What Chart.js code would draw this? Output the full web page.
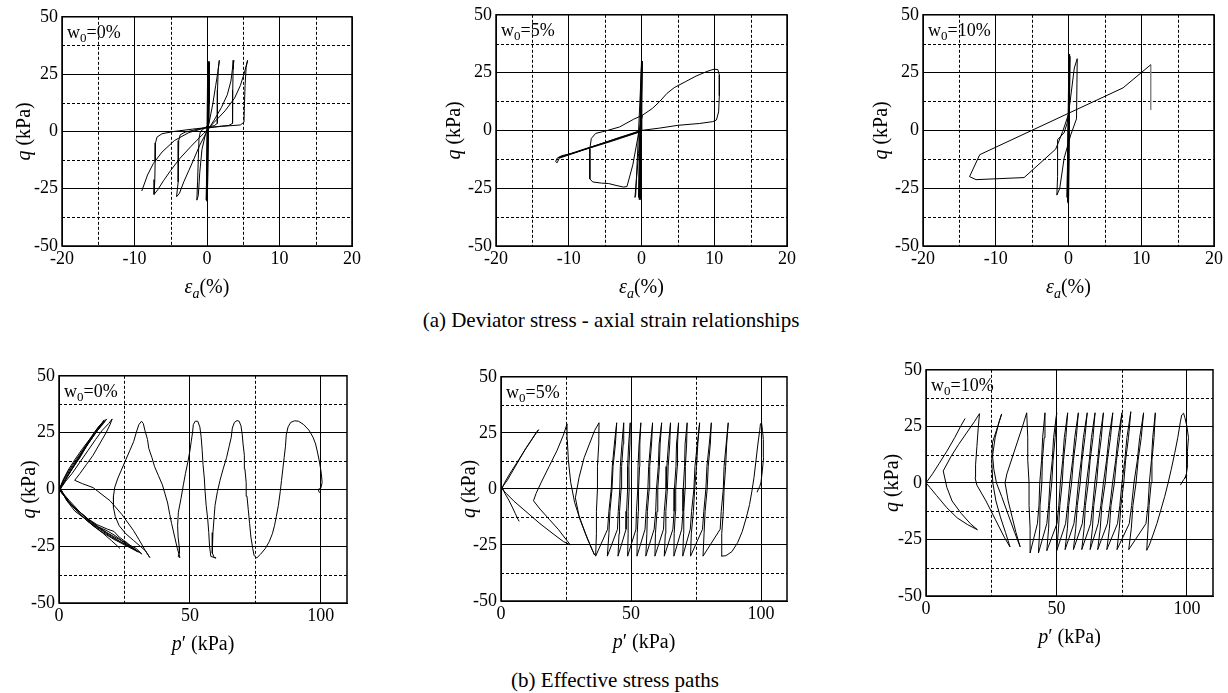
<!DOCTYPE html>
<html>
<head>
<meta charset="utf-8">
<script src="https://cdn.jsdelivr.net/npm/chart.js@4.4.0/dist/chart.umd.min.js"></script>
<style>
  body { margin: 0; background: #fff; width: 1228px; height: 693px; position: relative; overflow: hidden; }
  canvas { position: absolute; }
  .cap { position: absolute; left: 0; width: 1228px; text-align: center; color: #000; line-height: 22px; }
</style>
</head>
<body>
<div class="cap" id="capA" style="left:-3px; top:309px;">(a) Deviator stress - axial strain relationships</div>
<div class="cap" id="capB" style="left:1px; top:669px;">(b) Effective stress paths</div>
<script>
// axis ticks
var strainTicks = [-20, -10, 0, 10, 20];
var strainMinor = [-15, -5, 5, 15];
var pTicks = [0, 50, 100];
var pMinor = [25, 75];
var qTicks = [-50, -25, 0, 25, 50];
var qMinor = [-37.5, -12.5, 12.5, 37.5];
var waterContents = ['0', '5', '10'];

// (a) deviator stress q (kPa) vs axial strain (%)
var curveA0 = [[0,0],[0.1,30],[-0.1,-30],[0.2,30.5],[0,-30.5],[0.25,30],[-0.05,-30],[0.3,30.5],[0.05,-29.5],[0.35,30],
  [0.3,12],[0.25,3],[-0.3,1.5],[-0.9,0],[-1.1,-3],[-1.2,-12],[-1.3,-22],[-1.4,-30],
  [-1.2,-28],[-1.0,-18],[-0.7,-8],[-0.2,-1],[0.3,4],[0.8,12],[1.2,20],[1.5,26],[1.7,31],
  [1.55,27],[1.45,18],[1.45,8],[1.4,3.5],[1.0,2.5],[0,1.8],[-1.5,0.8],[-3,-0.3],[-3.7,-1.5],[-3.9,-4],[-3.95,-12],[-4.0,-22],[-4.2,-28.5],
  [-3.8,-27],[-3.2,-22],[-2.5,-17],[-1.8,-12],[-1,-6],[0,0],[1,5],[2,10.5],[2.8,16],[3.3,22],[3.5,27],[3.7,31],
  [3.6,27],[3.55,18],[3.55,8],[3.5,3.5],[3.0,2.6],[1,2],[-2,1],[-4.5,0],[-6.2,-1],[-6.9,-2.5],[-7.1,-5],[-7.15,-13],[-7.2,-21],[-7.3,-27.5],
  [-6.8,-25.5],[-6,-21.5],[-5,-17],[-3.8,-12],[-2.2,-6.5],[-0.5,-1],[1,4],[2.5,9],[3.8,14.5],[4.6,20],[5.1,25],[5.6,31],
  [5.4,28],[5.25,20],[5.15,10],[5.1,4],[4.6,2.8],[2,2.2],[-0.5,1.3],[-2.5,-0.5],[-4.5,-4],[-6.2,-9],[-7.4,-14],[-8.2,-19],[-9,-26]];

var curveA5 = [[0,0],[0.05,30],[-0.3,-30],[0.1,30],[-0.2,-29.5],[0.05,29.5],[-0.1,-30],[0,30.5],[-0.4,-29],[0,28],[-0.8,-28],[-0.9,-29],
  [-0.4,-10],[-0.1,3],[0.1,6.5],[-1.1,4.8],[-3,1.5],[-5,-0.3],[-6.3,-1.3],[-6.9,-3.5],[-7.1,-8],[-7.1,-15],[-7.1,-21],[-6.7,-22.3],[-5.5,-22.8],[-4.5,-23],[-3.5,-23.8],[-2.5,-24.5],[-2.0,-24.3],
  [-1.2,-15],[-0.5,-3],[0.1,6.5],[1.5,9.5],[2.5,12.5],[3.5,16],[4.5,18.5],[6,21],[7.5,23.5],[9,25.5],[10,26.5],[10.5,26.3],[10.7,24],[10.7,15],[10.6,8],[10.3,4.5],[9.8,3.8],[8,3],[5,2.2],[2.5,1],
  [0,0],[-3,-3],[-6,-6.2],[-9,-9.5],[-11,-11],[-11.6,-12],[-11.8,-13.5],[-11.6,-14],[-11.3,-12],[-8,-8.5],[-4,-4.6],[0,-0.4],[-4,-4.3],[-8,-8.2],[-11.4,-11.8],[-7,-7.4],[-3,-3.2],[0,0]];

var curveA10 = [[0,0],[0.1,32],[-0.1,-31],[0.15,33],[0,-32],[0.2,32],[-0.05,-31.5],[0.1,31],[-0.1,-30],[0.05,30],[-0.2,-29],
  [0,7],[0.8,27],[1.2,31],[1.1,5],[0.3,-2],[-0.6,-12],[-1.2,-25],[-1.6,-28],[-1.5,-20],[-1.5,-4],[-0.6,-1],[-0.2,3],[0,7],
  [-0.8,-0.5],[-1.76,-8.1],[-6.1,-20.4],[-12.7,-21.3],[-13.6,-20],[-12.2,-10.5],[7.5,18.4],[11.3,28.4]];
var tailA10 = [[11.3,28.4],[11.3,8.8]];

// (b) effective stress paths q (kPa) vs p' (kPa)
var pathB0 = [[99.5,-1.5],[99,0],[100,0.5],[100.5,3],[100.2,7],[99.5,12],[98.8,16],[98,20],[97,23],[95.5,26],[93.5,28.5],[91.5,30],[90,30.2],[88.5,29.5],[87.5,27.5],[86.8,24],[86.5,19],[86,14],[85.5,9],[85,4],[84.5,-1],[83.8,-7],[83,-12],[82.3,-16],[81.5,-19.5],[80.3,-23],[78.8,-26],[77,-28.5],[75.5,-30.2],
  [74.5,-29],[74,-26],[73.3,-21],[72.8,-15],[72.3,-9],[71.8,-3],[71.5,3],[71,9],[70.8,15],[70.3,20],[70,24],[69.5,28],[68.8,30],[68,30.3],[67,29.5],
  [66.2,27],[65.8,23],[65,19],[64,14],[62.7,9],[61.5,4],[60.5,-1],[59.6,-7],[59.2,-13],[58.8,-19],[58.5,-24],[58.6,-28],[59.3,-30],[60,-30.2],
  [58,-29.5],[57.5,-25],[57.2,-19],[56.8,-13],[56.2,-7],[55.8,-1],[55.5,5],[55,11],[54.7,17],[54.3,23],[53.8,27.5],[53,30],[52,30],[51.3,28.5],
  [51,25],[50.5,21],[50,17],[49.2,12],[48.3,7],[47.5,2],[46.6,-4],[45.6,-10],[45.3,-16],[45.5,-21],[45.9,-25],[46,-28],[45.5,-29.5],[46.2,-30],
  [45.2,-26],[44.2,-21],[43,-15],[42.3,-11],[41.5,-6],[40.5,-2],[39.5,2],[38,6],[36.5,10],[35.5,14],[34.3,18],[33.8,22],[32.8,26],[32.2,29],[31.5,30],[30.5,28.5],
  [29.5,25],[28.5,21],[27,17],[25.5,13],[24,9],[22.5,5],[21.3,1],[20.8,-3],[20.8,-8],[21.5,-12],[23,-16],[25.5,-19.5],[28.5,-22.5],[31,-25],[33,-27],[34.7,-30],
  [33,-27],[30.5,-22],[28.4,-18],[24,-11],[19.5,-5],[13,0.8],[9,2.5],[6,4],
  [8,7],[10.5,11],[13,15],[15.5,20],[18,25],[19.5,28.5],[20.3,31],
  [19,29],[16.5,26],[14,22],[11,17],[8,12],[5,7],[2.5,3.5],[1,1],[0.3,-0.5],
  [2,-3],[5,-7],[8.5,-10.5],[12,-14],[15,-16.5],[18,-18],[21,-20],[24,-22.5],[27,-24.5],[29.5,-26],[31.6,-28.4],
  [28,-25.5],[24,-23.5],[20,-20.5],[16,-17.5],[12,-14.5],[8,-10],[4,-5],[1,-1],[0.2,0],
  [1.5,4],[3.5,8.5],[6,13],[9,18],[12,22.5],[14.5,26.5],[16.3,29],[17.3,30.6],
  [16,28],[13.5,24],[10.5,19],[7.5,13.5],[4.5,8],[2,3],[0.5,0.5],
  [3,-5],[7,-9],[11,-13],[15,-16.5],[19,-19.5],[23,-22],[27,-25],[30.3,-27.6],
  [26,-25],[21,-22],[16,-18.5],[12,-15],[8,-11],[4,-6],[1,-1.5],[0.2,0],
  [2,4.5],[4.5,9],[7.5,14],[10.5,19],[13.5,24],[16,28],[18.2,31],
  [17,29],[14,25],[11,20],[8,14],[5,9],[2.5,4.5],[0.5,0.5],
  [3,-4.5],[6.5,-8.5],[10.5,-12.5],[14.5,-15.5],[18.5,-17.5],[21,-18.5],[23,-21],[26,-23.5],[28.9,-26.5],
  [25,-24],[20,-21],[15.5,-17.5],[11,-14],[7,-9.5],[3.5,-5],[0.8,-1],[0,0],
  [2.5,6],[5,10.5],[8,15.5],[11,20.5],[14,25.5],[17,30],
  [15,27.5],[12,22.5],[9,17],[6,11],[3,5.5],[0.5,0.5],
  [3,-5],[6,-9.5],[10,-13],[13,-16],[16.5,-19],[20,-22.5],[23.3,-26]];

var pathB5 = [[98.5,-1.5],[99,0],[99.5,1],[100,3],[100.5,8],[101,14],[100.8,18],[101,22],[100.6,26],[100.2,29.5],[99.8,29],
  [99.5,26],[98.8,20],[98,12],[97.3,5],[96.5,-1],[95.6,-7],[94.3,-13],[92.8,-19],[91,-24],[88.8,-28],[86.5,-29.8],[84.8,-30],
  [84.9,-20],[85.5,-10],[85.8,0],[86.4,10],[86.8,20],[87.4,29.5],[86.6,20],[85.8,10],[85.5,0],[84.7,-10],[84.3,-18],
  [77.7,-30],[78.1,-20],[78.5,-10],[79.3,0],[79.7,10],[80.5,20],[80.9,29.5],[80.1,20],[79.2,10],[78.8,0],[78,-10],[77.5,-18],
  [72.9,-30],[73.2,-20],[74,-10],[74.5,0],[75.2,10],[75.7,20],[76.4,29.5],[75.5,20],[74.6,10],[74.2,0],[73.3,-10],[72.8,-18],
  [69.9,-30],[70.2,-20],[70.3,-10],[70.8,0],[70.9,10],[71.4,20],[71.6,29.5],[70.8,20],[70.6,10],[70.1,0],[70,-10],[69.5,-18],
  [66.5,-30],[66.6,-20],[67.1,-10],[67.2,0],[67.8,10],[67.9,20],[68.3,29.5],[67.5,20],[67.3,10],[66.7,0],[66.6,-10],[66.1,-18],
  [62.8,-30],[63.2,-20],[63.4,-10],[64,0],[64.3,10],[64.9,20],[65.2,29.5],[64.4,20],[63.8,10],[63.5,0],[62.8,-10],[62.5,-18],
  [59.2,-30],[59.4,-20],[60,-10],[60.3,0],[60.9,10],[61.2,20],[61.8,29.5],[60.8,20],[60.5,10],[59.8,0],[59.5,-10],[58.9,-18],
  [55.7,-30],[56.1,-20],[56.3,-10],[57,0],[57.2,10],[57.9,20],[58.3,29.5],[57.5,20],[56.8,10],[56.5,0],[55.8,-10],[55.4,-18],
  [52.3,-30],[52.4,-20],[52.8,-10],[52.9,0],[53.3,10],[53.4,20],[53.8,29.5],[53.1,20],[52.7,10],[52.6,0],[52.1,-10],[51.9,-18],
  [48.7,-30],[48.9,-20],[48.9,-10],[49.3,0],[49.2,10],[49.6,20],[49.7,29.5],[49.1,20],[48.7,10],[48.7,0],[48.3,-10],[48.1,-18],
  [45,-30],[45.4,-20],[45.6,-10],[46.2,0],[46.4,10],[47,20],[47.2,29.5],[46.5,20],[45.9,10],[45.7,0],[45.1,-10],[44.8,-18],
  [40.9,-30],[41.5,-20],[41.9,-10],[42.7,0],[43.1,10],[44,20],[44.5,29.5],[43.6,20],[42.8,10],[42.4,0],[41.5,-10],[41,-18],
  [36.4,-30],[36.7,-20],[36.7,-10],[37.1,0],[37.1,10],[37.6,20],[37.7,29.5],
  [36,26],[34,20],[32,14],[30,5],[28.6,-4],[30,-12],[32.5,-20],[35,-27],[36,-29.5],
  [33.5,-23],[30.5,-14],[28.3,-6],[26.8,3],[25.9,13],[25.5,22],[25.4,29],
  [24,24],[21.5,17],[18.5,10],[15.5,3],[13.5,-2],[12.5,-5.3],[15,-9],[18.5,-13.5],[22,-18],[25,-22.5],[26.7,-25],
  [24,-23.5],[20,-20],[15,-15.5],[10,-10.5],[5,-5.5],[2,-2],[0.3,0],
  [1.5,3],[3.5,7],[6,11.5],[9,17],[11,20.5],[13,24],[14.45,26.4],
  [13.5,25],[11.5,21.5],[9.5,18],[7,13],[4.5,8],[2.5,4],[0.5,0.8],
  [1.5,-2],[3,-5],[4.5,-8.5],[5.5,-11],[6.5,-13.5],[7,-14.5]];

var pathB10 = [[97.5,-1],[98,0],[98.8,1.5],[99.5,2.5],[100,3.5],[99.2,2],[99.8,4],[100.3,8],[100.2,14],[100.6,20],[100,25],[99.2,29],[98.7,30.8],[98,30],
  [97.5,27],[96.5,20],[95.3,13],[94,6],[92.8,0],[91.5,-6],[90,-12],[88.5,-18],[87,-23],[85.6,-27.5],[84.6,-29.8],
  [85.1,-20],[85.5,-10],[86.3,0],[86.6,10],[87.4,20],[87.9,31],[86.9,20],[86.4,10],[85.6,0],[85.1,-10],[84.3,-18],
  [77.7,-29.5],[78.7,-20],[79.3,-10],[80.5,0],[81.3,10],[82.5,20],[83.4,31],[81.9,20],[81,10],[79.7,0],[78.8,-10],[77.9,-18],
  [73.2,-29.5],[74.1,-20],[74.7,-10],[75.8,0],[76.5,10],[77.6,20],[78.5,31.5],[77,20],[76.2,10],[75.1,0],[74.3,-10],[73.4,-18],
  [69.3,-29.5],[70.3,-20],[70.9,-10],[72.2,0],[73,10],[74.2,20],[75.1,31],[73.6,20],[72.7,10],[71.5,0],[70.5,-10],[69.5,-18],
  [65.8,-29.5],[66.8,-20],[67.4,-10],[68.7,0],[69.5,10],[70.7,20],[71.6,31],[70.1,20],[69.2,10],[68,0],[67,-10],[66,-18],
  [62.9,-29.5],[63.8,-20],[64.3,-10],[65.4,0],[66.1,10],[67.2,20],[68,31],[66.6,20],[65.8,10],[64.7,0],[63.9,-10],[63.1,-18],
  [59.7,-29.5],[60.6,-20],[61.1,-10],[62.2,0],[62.9,10],[64,20],[64.8,31],[63.4,20],[62.6,10],[61.5,0],[60.7,-10],[59.9,-18],
  [56.5,-29.5],[57.4,-20],[58,-10],[59.1,0],[59.8,10],[60.9,20],[61.8,31],[60.3,20],[59.5,10],[58.4,0],[57.6,-10],[56.7,-18],
  [53.3,-29.5],[54.2,-20],[54.7,-10],[55.8,0],[56.5,10],[57.6,20],[58.4,31],[57,20],[56.2,10],[55.1,0],[54.3,-10],[53.5,-18],
  [50.1,-30],[50.8,-20],[51.3,-10],[52.2,0],[52.7,10],[53.6,20],[54.3,31],[53,20],[52.4,10],[51.5,0],[50.9,-10],[50.2,-18],
  [46.3,-30],[47,-20],[47.3,-10],[48.2,0],[48.7,10],[49.5,20],[50.1,31],[48.9,20],[48.4,10],[47.5,0],[47,-10],[46.3,-18],
  [43.1,-31],[43.6,-20],[43.7,-10],[44.4,0],[44.6,10],[45.3,20],[45.6,31],[44.7,20],[44.3,10],[43.6,0],[43.3,-10],[42.7,-18],
  [39.9,-31],[39.9,-20],[39.5,-10],[39.5,0],[39,10],[39,20],[38.6,31],
  [37,25],[35,18],[33,11],[31,4],[30.3,0],[31.5,-8],[33,-15],[34.5,-22],[36.1,-28.3],
  [34,-22],[31.5,-14],[29,-6],[27,0],[26,6],[25.5,12],[26.5,20],[28,27],[29,30.5],
  [27.5,25],[25.5,18],[25.2,10],[25.6,0],[26.8,-8],[28.5,-15],[30.5,-22],[32.2,-28.3],
  [30,-24],[26.5,-16],[23,-8],[19.5,-1],[18.8,2.3],[19,8],[19.5,16],[20,24],[20.5,30.6],
  [18.5,27],[15.5,22],[12.5,17],[9.5,11.5],[6.6,5.3],[8,-2],[10,-8],[13.5,-13.5],[17,-18],[19.7,-20.7],
  [16,-18.5],[12,-15.5],[8,-11],[4,-5.5],[1.5,-2],[0,0],
  [2.5,4],[5,8.5],[8,14],[11,20],[13.5,25.5],[15,28.5]];

// pick a Times-like face if one is installed
function pickFont(list) {
  var c = document.createElement('canvas').getContext('2d');
  var sample = 'mmmmmmmmmmlli1WQ@#0123456789 (kPa)';
  c.font = '40px monospace';
  var base = c.measureText(sample).width;
  for (var i = 0; i < list.length; i++) {
    c.font = '40px "' + list[i] + '", monospace';
    if (c.measureText(sample).width !== base) return list[i];
  }
  return 'Liberation Sans';
}
var face = pickFont(['Liberation Serif', 'Tinos', 'Times New Roman', 'Nimbus Roman', 'FreeSerif', 'Noto Serif', 'DejaVu Serif']);
var FONT = '"' + face + '", serif';
var narrow = face !== 'DejaVu Serif' && face !== 'Noto Serif';
var TICK = narrow ? 18 : 15, TITLE = narrow ? 20 : 18, CAP = narrow ? 21 : 17;

['capA', 'capB'].forEach(function (id) {
  var el = document.getElementById(id);
  el.style.fontFamily = FONT;
  el.style.fontSize = CAP + 'px';
});

Chart.defaults.font.family = FONT;
Chart.defaults.font.size = TICK;
Chart.defaults.color = '#000';
Chart.defaults.animation = false;

var strainTitle = [{t: '\u03b5', it: true}, {t: 'a', it: true, sub: true}, {t: '(%)'}];
var pTitle = [{t: 'p', it: true}, {t: '\u2032 (kPa)'}];
var qTitle = [{t: 'q', it: true}, {t: ' (kPa)'}];

function runFont(r, size) {
  return (r.it ? 'italic ' : '') + (r.sub ? Math.round(size * 0.7) : size) + 'px ' + FONT;
}

function drawRuns(ctx, runs, cx, cy, size) {
  var w = 0;
  runs.forEach(function (r) { ctx.font = runFont(r, size); w += ctx.measureText(r.t).width; });
  var x = cx - w / 2;
  ctx.textBaseline = 'middle';
  ctx.textAlign = 'left';
  runs.forEach(function (r) {
    ctx.font = runFont(r, size);
    ctx.fillText(r.t, x, r.sub ? cy + size * 0.3 : cy);
    x += ctx.measureText(r.t).width;
  });
}

var decor = {
  id: 'decor',
  beforeDatasetsDraw: function (chart, args, o) {
    var ctx = chart.ctx, a = chart.chartArea, x = chart.scales.x, y = chart.scales.y;
    ctx.save();
    ctx.strokeStyle = '#000';
    ctx.lineWidth = 1;
    ctx.setLineDash([3, 2]);
    ctx.beginPath();
    o.xMinor.forEach(function (v) {
      var px = Math.round(x.getPixelForValue(v)) + 0.5;
      ctx.moveTo(px, a.top); ctx.lineTo(px, a.bottom);
    });
    qMinor.forEach(function (v) {
      var py = Math.round(y.getPixelForValue(v)) + 0.5;
      ctx.moveTo(a.left, py); ctx.lineTo(a.right, py);
    });
    ctx.stroke();
    ctx.restore();
  },
  afterDraw: function (chart, args, o) {
    var ctx = chart.ctx, a = chart.chartArea;
    ctx.save();
    ctx.strokeStyle = '#000';
    ctx.lineWidth = 1.5;
    ctx.strokeRect(a.left, a.top, a.right - a.left, a.bottom - a.top);
    ctx.fillStyle = '#000';
    ctx.textBaseline = 'alphabetic';
    var tx = a.left + 5, ty = a.top + 21;
    ctx.font = TICK + 'px ' + FONT;
    ctx.fillText('w', tx, ty); tx += ctx.measureText('w').width;
    ctx.font = Math.round(TICK * 0.7) + 'px ' + FONT;
    ctx.fillText('0', tx, ty + 4); tx += ctx.measureText('0').width;
    ctx.font = TICK + 'px ' + FONT;
    ctx.fillText('=' + o.w0 + '%', tx, ty);
    drawRuns(ctx, o.xTitle, (a.left + a.right) / 2, a.bottom + 42, TITLE);
    ctx.translate(a.left + o.yDx, (a.top + a.bottom) / 2);
    ctx.rotate(-Math.PI / 2);
    drawRuns(ctx, qTitle, 0, 0, TITLE);
    ctx.restore();
  }
};

var panels = [
  {box: [62, 15, 352, 246], lines: [curveA0], w0: waterContents[0], kind: 'a', yDx: -37},
  {box: [496, 13, 787, 246], lines: [curveA5], w0: waterContents[1], kind: 'a', yDx: -41},
  {box: [923, 13, 1214, 246], lines: [curveA10, tailA10], w0: waterContents[2], kind: 'a', yDx: -41},
  {box: [59, 374, 347, 603], lines: [pathB0], w0: waterContents[0], kind: 'b', yDx: -29},
  {box: [501, 375, 787, 601], lines: [pathB5], w0: waterContents[1], kind: 'b', yDx: -31},
  {box: [926, 368, 1213, 596], lines: [pathB10], w0: waterContents[2], kind: 'b', yDx: -33}
];

var PAD_L = 64, PAD_T = 13, PAD_R = 20, PAD_B = 62;

panels.forEach(function (pn) {
  var L = pn.box[0], T = pn.box[1], R = pn.box[2], B = pn.box[3];
  var cv = document.createElement('canvas');
  cv.width = R - L + PAD_L + PAD_R;
  cv.height = B - T + PAD_T + PAD_B;
  cv.style.left = (L - PAD_L) + 'px';
  cv.style.top = (T - PAD_T) + 'px';
  document.body.appendChild(cv);

  var isA = pn.kind === 'a';
  var xTicks = isA ? strainTicks : pTicks;
  var datasets = pn.lines.map(function (line, i) {
    return {
      data: line.map(function (pt) { return {x: pt[0], y: pt[1]}; }),
      showLine: true,
      borderColor: i === 0 ? '#000' : '#888',
      borderWidth: 1,
      pointRadius: 0,
      tension: 0
    };
  });

  new Chart(cv.getContext('2d'), {
    type: 'scatter',
    data: {datasets: datasets},
    options: {
      responsive: false,
      animation: false,
      layout: {padding: {top: PAD_T, right: PAD_R, left: 0, bottom: 0}},
      plugins: {
        legend: {display: false},
        tooltip: {enabled: false},
        decor: {xMinor: isA ? strainMinor : pMinor, w0: pn.w0, xTitle: isA ? strainTitle : pTitle, yDx: pn.yDx}
      },
      scales: {
        x: {
          type: 'linear',
          min: isA ? -20 : 0,
          max: isA ? 20 : 110,
          afterBuildTicks: function (s) { s.ticks = xTicks.map(function (v) { return {value: v}; }); },
          afterFit: function (s) { s.height = PAD_B; },
          ticks: {autoSkip: false, maxRotation: 0, padding: 2, callback: function (v) { return String(v); }},
          grid: {color: '#000', lineWidth: 1, drawTicks: false},
          border: {color: '#000', width: 1}
        },
        y: {
          type: 'linear',
          min: -50,
          max: 50,
          afterBuildTicks: function (s) { s.ticks = qTicks.map(function (v) { return {value: v}; }); },
          afterFit: function (s) { s.width = PAD_L; },
          ticks: {autoSkip: false, padding: 4, callback: function (v) { return String(v); }},
          grid: {color: '#000', lineWidth: 1, drawTicks: false},
          border: {color: '#000', width: 1}
        }
      }
    },
    plugins: [decor]
  });
});
</script>
</body>
</html>
